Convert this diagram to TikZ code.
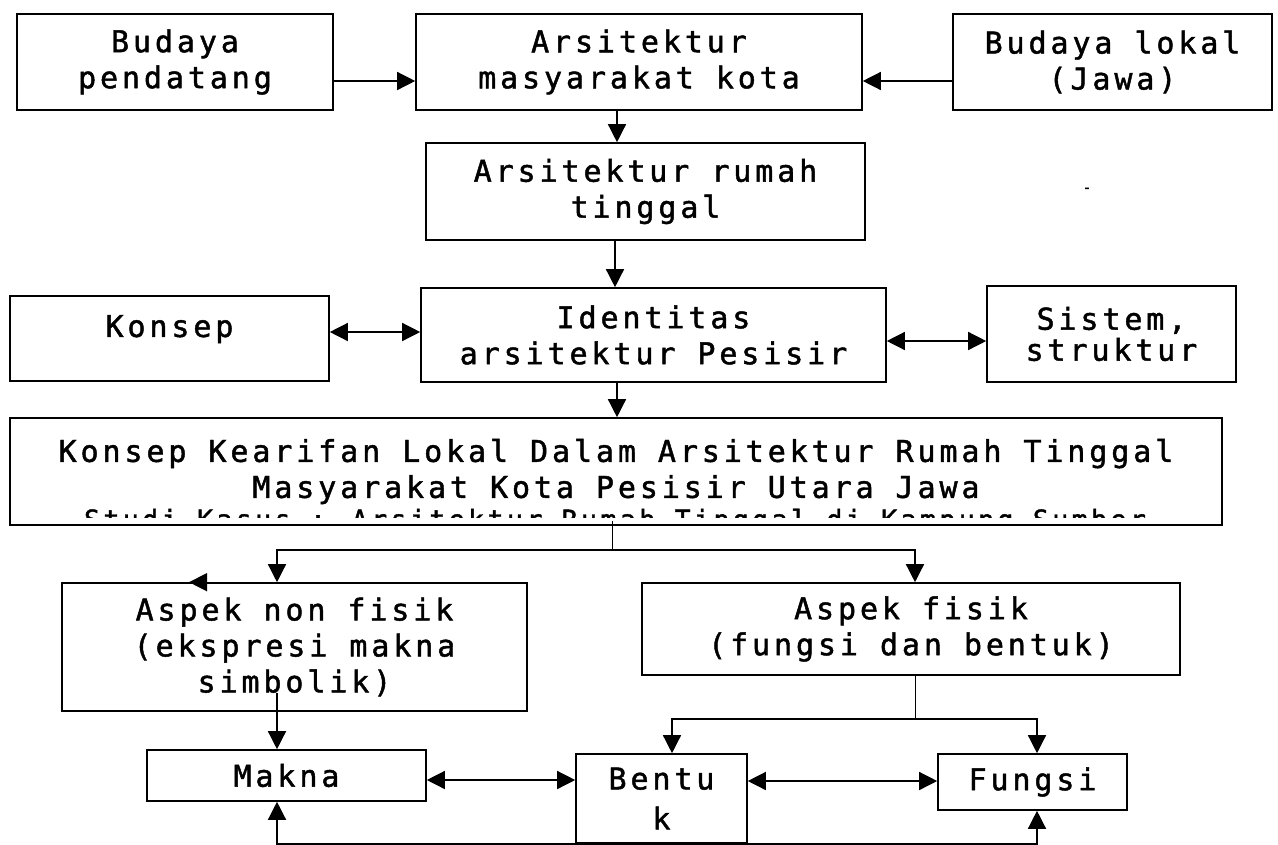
\documentclass[tikz,border=0pt]{standalone}
\usepackage{fontspec}
\newfontfamily\boxfont{DejaVu Sans Mono}[LetterSpace=13, FakeBold=1.5]
\usepackage{tikz}
\usetikzlibrary{arrows.meta}

\begin{document}
\begin{tikzpicture}[x=1pt, y=-1pt,
    box/.style={draw, line width=1.6pt, align=center, inner sep=2pt, font=\boxfont\fontsize{30}{36}\selectfont},
    arr/.style={-{Triangle[length=18pt,width=18pt]}, line width=1.4pt},
    dbl/.style={{Triangle[length=18pt,width=18pt]}-{Triangle[length=18pt,width=18pt]}, line width=1.4pt}]
\useasboundingbox (0,0) rectangle (1278,844);

\node[box] (pendatang) at ( 175,   62   ) [minimum width=316pt, minimum height=96pt]  {Budaya\\pendatang};
\node[box] (kota)      at ( 639,   62   ) [minimum width=446pt, minimum height=96pt]  {Arsitektur\\masyarakat kota};
\node[box] (lokal)     at ( 1112.5, 62  ) [minimum width=319pt, minimum height=96pt]  {Budaya lokal\\(Jawa)};
\node[box] (rumah)     at ( 645.5, 191.5) [minimum width=439pt, minimum height=97pt]  {Arsitektur rumah\\tinggal};
\node[font=\boxfont\fontsize{14}{14}\selectfont] (dash) at ( 1087, 190 ) {-};
\node[box, text depth=25pt] (konsep) at ( 169.5, 338.5) [minimum width=319pt, minimum height=85pt] {Konsep};
\node[box] (identitas) at ( 653.5, 335  ) [minimum width=465pt, minimum height=94pt]  {Identitas\\arsitektur Pesisir};
\node[box] (sistem)    at ( 1111.5, 334 ) [minimum width=249pt, minimum height=96pt]  {Sistem,\\[-5pt]struktur};
\node[box] (kearifan)  at ( 616,   471.5) [minimum width=1212pt, minimum height=107pt] {Konsep Kearifan Lokal Dalam Arsitektur Rumah Tinggal\\Masyarakat Kota Pesisir Utara Jawa};
\begin{scope}
\clip (kearifan.north west) rectangle ([yshift=8pt]kearifan.south east);
\node[font=\boxfont\fontsize{26.5}{30}\selectfont, anchor=base] (studi) at ( 615, 529 ) {Studi Kasus : Arsitektur Rumah Tinggal di Kampung Sumber};
\end{scope}
\node[box] (nonfisik)  at ( 294.5, 647  ) [minimum width=465pt, minimum height=128pt] {Aspek non fisik\\(ekspresi makna\\simbolik)};
\node[box] (fisik)     at ( 911,   629  ) [minimum width=538pt, minimum height=92pt]  {Aspek fisik\\(fungsi dan bentuk)};
\node[box] (makna)     at ( 286.5, 775.5) [minimum width=279pt, minimum height=51pt]  {Makna};
\node[box] (bentuk)    at ( 661.5, 798.5) [minimum width=171pt, minimum height=89pt]  {Bentu\\[4pt]k};
\node[box] (fungsi)    at ( 1032.5, 782 ) [minimum width=189pt, minimum height=56pt]  {Fungsi};

\draw[arr] ([yshift=-19pt]pendatang.east) -- ([yshift=-19pt]kota.west);
\draw[arr] ([yshift=-19pt]lokal.west) -- ([yshift=-19pt]kota.east);
\draw[arr] ([xshift=-22pt]kota.south) -- ([xshift=-28.5pt]rumah.north);
\draw[arr] ([xshift=-30.5pt]rumah.south) -- ([xshift=-38.5pt]identitas.north);
\draw[dbl] ([yshift=6.5pt]konsep.east) -- ([yshift=3pt]identitas.west);
\draw[dbl] ([yshift=-6pt]identitas.east) -- ([yshift=-7pt]sistem.west);
\draw[arr] ([xshift=-36.5pt]identitas.south) -- ([xshift=1pt]kearifan.north);

\draw ([shift={(-4pt,5pt)}]kearifan.south) -- ++(0,29) coordinate (split);
\draw[arr] (split) -| ([xshift=-17.5pt]nonfisik.north);
\draw[arr] (split) -| ([xshift=4pt]fisik.north);
\draw[arr] ([xshift=-17.5pt]nonfisik.north) -- ([xshift=-105.5pt]nonfisik.north);

\draw[arr] ([shift={(-17.5pt,19pt)}]nonfisik.south) -- ([xshift=-9.5pt]makna.north);
\draw ([xshift=4pt]fisik.south) -- ++(0,43) coordinate (fork);
\draw[arr] (fork) -| ([xshift=10.5pt]bentuk.north);
\draw[arr] (fork) -| ([xshift=4.5pt]fungsi.north);

\draw[dbl] ([yshift=-4.5pt]makna.east) -- ([yshift=18.5pt]bentuk.west);
\draw[dbl] ([yshift=17.5pt]bentuk.east) -- ([yshift=1pt]fungsi.west);
\draw[dbl] ([xshift=-9.5pt]makna.south) -- ++(0,42) -| ([xshift=4.5pt]fungsi.south);
\end{tikzpicture}
\end{document}
